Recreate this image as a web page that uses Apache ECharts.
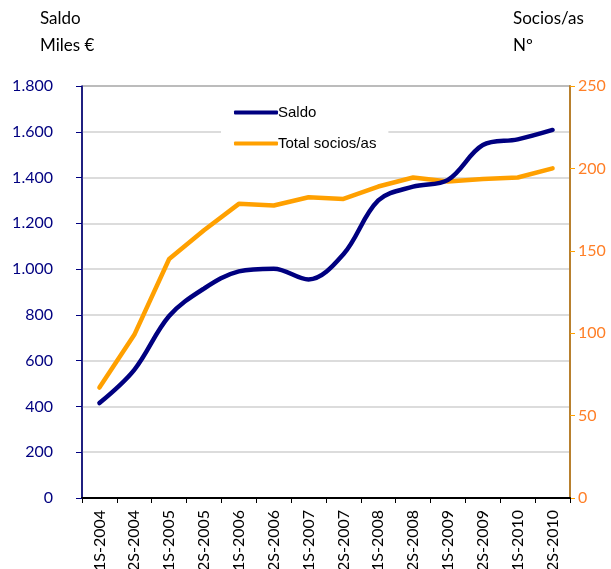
<!DOCTYPE html>
<html><head><meta charset="utf-8">
<script src="https://cdn.jsdelivr.net/npm/echarts@6/dist/echarts.min.js"></script>
<style>html,body{margin:0;padding:0;background:#fff}#c{width:611px;height:569px}</style>
</head><body><div id="c"></div>
<script>
const categories = ['1S-2004','2S-2004','1S-2005','2S-2005','1S-2006','2S-2006','1S-2007','2S-2007','1S-2008','2S-2008','1S-2009','2S-2009','1S-2010','2S-2010'];
const saldo = [415, 560, 795, 915, 990, 1002, 955, 1065, 1300, 1360, 1390, 1542, 1567, 1608];
const socios = [67, 99, 145, 162.5, 178.5, 177.5, 182.5, 181.5, 189, 194.5, 192, 193.5, 194.5, 200];
const leftTicks = {min: 0, max: 1800, interval: 200};
const rightTicks = {min: 0, max: 250, interval: 50};

const NAVY = '#000080', ORANGE = '#FFA000', ORLABEL = '#FF7F27';
const chart = echarts.init(document.getElementById('c'));
const num = v => String(v).replace(/\B(?=(\d{3})+(?!\d))/g, '.');
chart.setOption({
  animation: false,
  grid: {left: 82, right: 41, top: 86, bottom: 71, show: true, borderColor: '#000', borderWidth: 1,
         containLabel: false, outerBoundsMode: 'none'},
  legend: {
    orient: 'vertical', left: 221, top: 97,
    padding: [8, 12, 12, 13], itemGap: 16,
    backgroundColor: '#fff',
    itemWidth: 44, itemHeight: 4, icon: 'roundRect',
    textStyle: {fontFamily: 'Liberation Sans', fontSize: 15, color: '#000', padding: [0, 0, 0, -5]},
    data: ['Saldo', 'Total socios/as']
  },
  xAxis: {
    type: 'category', data: categories, boundaryGap: true,
    axisLine: {lineStyle: {color: '#000', width: 2}},
    axisTick: {show: true, length: 5, lineStyle: {color: '#000'}},
    axisLabel: {rotate: 90, margin: 12, fontFamily: 'Lato', fontSize: 16, color: '#000'}
  },
  yAxis: [{
    type: 'value', min: leftTicks.min, max: leftTicks.max, interval: leftTicks.interval,
    axisLine: {show: true, lineStyle: {color: NAVY, width: 1.5}},
    axisTick: {show: true, length: 6, lineStyle: {color: NAVY}},
    axisLabel: {formatter: num, color: NAVY, fontFamily: 'Lato', fontSize: 16, margin: 29},
    splitLine: {lineStyle: {color: '#d0d0d0', width: 1.5}}
  }, {
    type: 'value', min: rightTicks.min, max: rightTicks.max, interval: rightTicks.interval,
    position: 'right',
    axisLine: {show: true, lineStyle: {color: '#B8802E', width: 2}},
    axisTick: {show: true, length: 5, lineStyle: {color: ORANGE}},
    axisLabel: {color: ORLABEL, fontFamily: 'Lato', fontSize: 16, margin: 8},
    splitLine: {show: false}
  }],
  series: [{
    name: 'Saldo', type: 'line', yAxisIndex: 0, data: saldo, smooth: 0.35,
    symbol: 'none', lineStyle: {color: NAVY, width: 4.5, cap: 'round'}, itemStyle: {color: NAVY}, z: 3
  }, {
    name: 'Total socios/as', type: 'line', yAxisIndex: 1, data: socios, smooth: false,
    symbol: 'none', lineStyle: {color: ORANGE, width: 4.5, cap: 'round'}, itemStyle: {color: ORANGE}, z: 2
  }],
  graphic: [
    {type: 'text', left: 40, top: 10, style: {text: 'Saldo', font: '17px Lato', fill: '#000'}},
    {type: 'text', left: 40, top: 37, style: {text: 'Miles €', font: '17px Lato', fill: '#000'}},
    {type: 'text', left: 513, top: 10, style: {text: 'Socios/as', font: '17px Lato', fill: '#000'}},
    {type: 'text', left: 513, top: 37, style: {text: 'Nº', font: '17px Lato', fill: '#000'}}
  ]
});
</script></body></html>
